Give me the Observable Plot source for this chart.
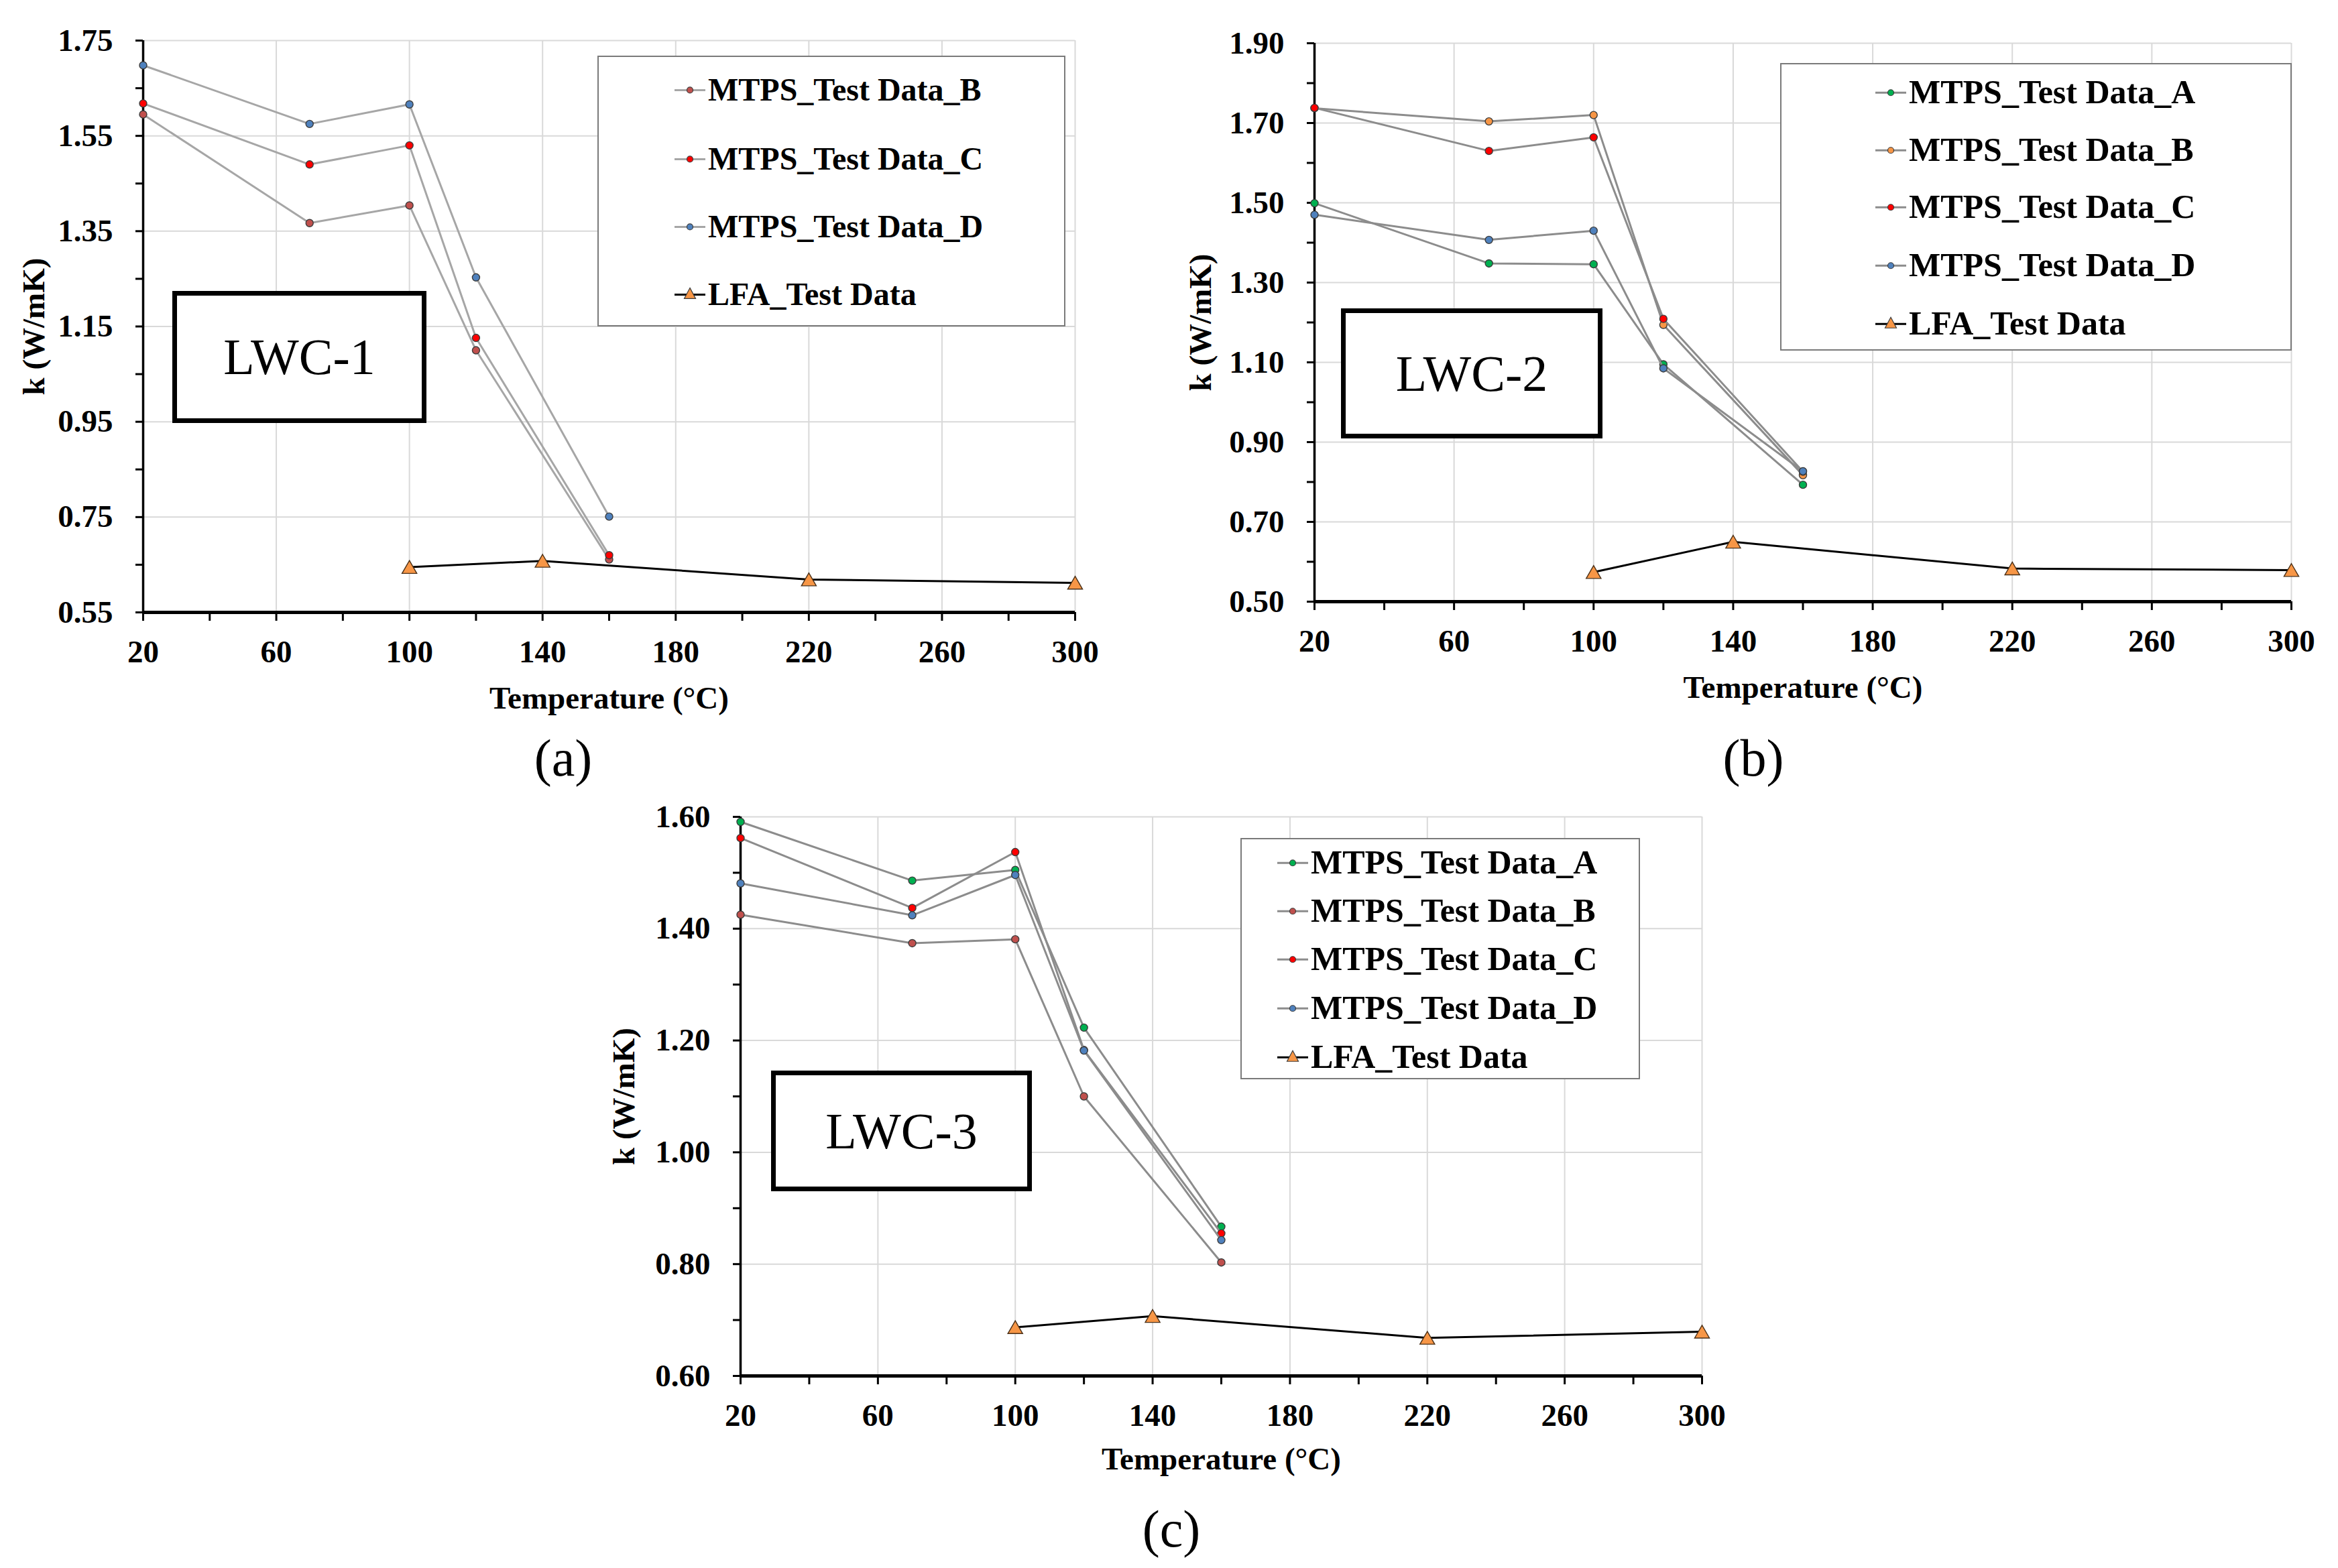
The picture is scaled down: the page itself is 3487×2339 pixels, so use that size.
<!DOCTYPE html>
<html><head><meta charset="utf-8">
<script src="https://cdn.jsdelivr.net/npm/d3@7"></script>
<script src="https://cdn.jsdelivr.net/npm/@observablehq/plot@0.6"></script>
<style>
html,body{margin:0;padding:0;background:#fff;}
#fig{position:relative;width:3487px;height:2339px;background:#fff;overflow:hidden;font-family:'Liberation Serif','Times New Roman',serif;}
#fig > svg{position:absolute;overflow:visible;}
.legend{position:absolute;border:2px solid #7a7a7a;background:#fff;box-sizing:border-box;}
.row{position:absolute;display:flex;align-items:center;transform:translateY(-50%);font-weight:bold;white-space:nowrap;color:#000;line-height:1.15;}
.row svg{position:absolute;top:50%;transform:translateY(-50%);}
.lwc{position:absolute;border:7px solid #000;box-sizing:border-box;display:flex;align-items:center;justify-content:center;font-weight:normal;background:#fff;color:#000;}
.cap{position:absolute;transform:translate(-50%,-50%);line-height:1;color:#000;white-space:nowrap;}
</style></head><body><div id="fig"></div><script>
// ---------- data ----------
const tempMTPS = [20, 70, 100, 120, 160];
const tempLFA = [100, 140, 220, 300];

const xMajorTicks = [20, 60, 100, 140, 180, 220, 260, 300];
const xMinorTicks = [40, 80, 120, 160, 200, 240, 280];

const yMajorA = [0.55, 0.75, 0.95, 1.15, 1.35, 1.55, 1.75];
const yMinorA = [0.65, 0.85, 1.05, 1.25, 1.45, 1.65];
const yMajorB = [0.50, 0.70, 0.90, 1.10, 1.30, 1.50, 1.70, 1.90];
const yMinorB = [0.60, 0.80, 1.00, 1.20, 1.40, 1.60, 1.80];
const yMajorC = [0.60, 0.80, 1.00, 1.20, 1.40, 1.60];
const yMinorC = [0.70, 0.90, 1.10, 1.30, 1.50];

// LWC-1
const lwc1_B = [1.595, 1.367, 1.404, 1.100, 0.661];
const lwc1_C = [1.618, 1.490, 1.530, 1.126, 0.670];
const lwc1_D = [1.698, 1.575, 1.616, 1.253, 0.751];
const lwc1_LFA = [0.645, 0.658, 0.619, 0.612];
// LWC-2
const lwc2_A = [1.499, 1.348, 1.346, 1.095, 0.793];
const lwc2_B = [1.737, 1.704, 1.720, 1.194, 0.817];
const lwc2_C = [1.738, 1.630, 1.664, 1.209, 0.826];
const lwc2_D = [1.470, 1.407, 1.430, 1.085, 0.827];
const lwc2_LFA = [0.574, 0.650, 0.583, 0.579];
// LWC-3
const lwc3_A = [1.591, 1.486, 1.505, 1.223, 0.867];
const lwc3_B = [1.425, 1.374, 1.381, 1.100, 0.803];
const lwc3_C = [1.562, 1.437, 1.537, 1.183, 0.855];
const lwc3_D = [1.481, 1.424, 1.496, 1.182, 0.843];
const lwc3_LFA = [0.687, 0.707, 0.668, 0.679];

const nameA = "MTPS_Test Data_A", nameB = "MTPS_Test Data_B", nameC = "MTPS_Test Data_C", nameD = "MTPS_Test Data_D", nameLFA = "LFA_Test Data";
const colGreen = "#00b050", colBrown = "#c0504d", colRed = "#ff0000", colBlue = "#4f81bd", colOrange = "#f79646";

const panelLabels = ["LWC-1", "LWC-2", "LWC-3"];
const captions = ["(a)", "(b)", "(c)"];
const xTitle = "Temperature (\u00B0C)";
const yTitle = "k (W/mK)";

// ---------- helpers ----------
const FONT = "'Liberation Serif','Times New Roman',serif";
const fig = document.getElementById("fig");
const rows = (xs, ys) => xs.map((t, i) => ({t, k: ys[i]}));

function makePanel(cfg) {
  const marks = [
    Plot.gridX(xMajorTicks, {stroke: "#d9d9d9", strokeOpacity: 1, strokeWidth: 2}),
    Plot.gridY(cfg.yMajor, {stroke: "#d9d9d9", strokeOpacity: 1, strokeWidth: 2}),
    Plot.axisX(xMinorTicks, {tickSize: 13, strokeWidth: 3, tickFormat: () => "", label: null}),
    Plot.axisX(xMajorTicks, {tickSize: 13, strokeWidth: 3, tickPadding: 28, fontSize: cfg.tickFs, fontWeight: "bold",
      label: xTitle, labelAnchor: "center", labelOffset: cfg.xLabelOffset, labelArrow: "none"}),
    Plot.axisY(cfg.yMinor, {tickSize: 11, strokeWidth: 3, tickFormat: () => "", label: null}),
    Plot.axisY(cfg.yMajor, {tickSize: 11, strokeWidth: 3, tickPadding: 34, fontSize: cfg.tickFs, fontWeight: "bold",
      tickFormat: d3.format(".2f"), label: yTitle, labelAnchor: "center", labelOffset: cfg.yLabelOffset, labelArrow: "none"}),
    Plot.ruleX([20], {strokeWidth: 3.5}),
    Plot.ruleY([cfg.yDomain[0]], {strokeWidth: 5})
  ];
  for (const s of cfg.series) {
    const d = rows(tempMTPS, s.values);
    marks.push(Plot.line(d, {x: "t", y: "k", stroke: cfg.lineGray, strokeWidth: 3}));
    marks.push(Plot.dot(d, {x: "t", y: "k", r: 5.5, fill: s.color, stroke: "#3c3c3c", strokeWidth: 1.4}));
  }
  const dl = rows(tempLFA, cfg.lfa);
  marks.push(Plot.line(dl, {x: "t", y: "k", stroke: "#000", strokeWidth: 3}));
  marks.push(Plot.dot(dl, {x: "t", y: "k", symbol: "triangle", r: 8.2, dy: 3, fill: colOrange, stroke: "#4a3018", strokeWidth: 1.4}));

  const f = cfg.frame;
  const svg = Plot.plot({
    width: cfg.w, height: cfg.h,
    marginLeft: f.x0 - cfg.left, marginRight: cfg.left + cfg.w - f.x1,
    marginTop: f.y0 - cfg.top, marginBottom: cfg.top + cfg.h - f.y1,
    x: {domain: [20, 300]},
    y: {domain: cfg.yDomain},
    style: {fontFamily: FONT, fontWeight: "bold", fontSize: cfg.tickFs + "px", background: "transparent", overflow: "visible", color: "#000"},
    marks
  });
  svg.style.position = "absolute";
  svg.style.left = cfg.left + "px";
  svg.style.top = cfg.top + "px";
  fig.appendChild(svg);

  // label box
  const b = document.createElement("div");
  b.className = "lwc";
  Object.assign(b.style, {left: cfg.box.x + "px", top: cfg.box.y + "px", width: cfg.box.w + "px", height: cfg.box.h + "px", fontSize: "76px"});
  b.textContent = cfg.boxText;
  fig.appendChild(b);

  // legend
  const L = cfg.legend;
  const lg = document.createElement("div");
  lg.className = "legend";
  Object.assign(lg.style, {left: L.x + "px", top: L.y + "px", width: L.w + "px", height: L.h + "px"});
  const entries = cfg.series.map(s => ({name: s.name, color: s.color, tri: false})).concat([{name: nameLFA, color: colOrange, tri: true}]);
  entries.forEach((e, i) => {
    const r = document.createElement("div");
    r.className = "row";
    Object.assign(r.style, {left: L.textLeft + "px", top: L.rows[i] + "px", fontSize: L.fs + "px"});
    const ns = "http://www.w3.org/2000/svg";
    const sw = document.createElementNS(ns, "svg");
    sw.setAttribute("width", 46); sw.setAttribute("height", 26);
    sw.style.left = (L.swatchLeft - L.textLeft) + "px";
    const ln = document.createElementNS(ns, "line");
    ln.setAttribute("x1", 0); ln.setAttribute("x2", 46); ln.setAttribute("y1", 13); ln.setAttribute("y2", 13);
    ln.setAttribute("stroke", e.tri ? "#000" : cfg.lineGray); ln.setAttribute("stroke-width", 3);
    sw.appendChild(ln);
    let m;
    if (e.tri) {
      m = document.createElementNS(ns, "path");
      m.setAttribute("d", "M23,3L31.5,19L14.5,19Z");
    } else {
      m = document.createElementNS(ns, "circle");
      m.setAttribute("cx", 23); m.setAttribute("cy", 13); m.setAttribute("r", 4.5);
    }
    m.setAttribute("fill", e.color); m.setAttribute("stroke", "#3c3c3c"); m.setAttribute("stroke-width", 1.2);
    sw.appendChild(m);
    r.appendChild(sw);
    const tx = document.createElement("span");
    tx.textContent = e.name;
    r.appendChild(tx);
    lg.appendChild(r);
  });
  fig.appendChild(lg);

  const c = document.createElement("div");
  c.className = "cap";
  Object.assign(c.style, {left: cfg.cap.x + "px", top: cfg.cap.y + "px", fontSize: "78px"});
  c.textContent = cfg.capText;
  fig.appendChild(c);
}

makePanel({
  left: 0, top: 0, w: 1700, h: 1100,
  frame: {x0: 213, x1: 1603, y0: 60, y1: 913},
  yDomain: [0.55, 1.75], yMajor: yMajorA, yMinor: yMinorA,
  tickFs: 47, xLabelOffset: 143, yLabelOffset: 181,
  lineGray: "#a6a6a6",
  series: [
    {name: nameB, color: colBrown, values: lwc1_B},
    {name: nameC, color: colRed, values: lwc1_C},
    {name: nameD, color: colBlue, values: lwc1_D}
  ],
  lfa: lwc1_LFA,
  box: {x: 257, y: 434, w: 379, h: 197}, boxText: panelLabels[0],
  legend: {x: 891, y: 83, w: 698, h: 404, rows: [49, 152, 253, 354], swatchLeft: 113, textLeft: 163, fs: 48},
  cap: {x: 840, y: 1131}, capText: captions[0]
});

makePanel({
  left: 1740, top: 0, w: 1747, h: 1100,
  frame: {x0: 1960, x1: 3417, y0: 64, y1: 897},
  yDomain: [0.50, 1.90], yMajor: yMajorB, yMinor: yMinorB,
  tickFs: 47, xLabelOffset: 143, yLabelOffset: 188,
  lineGray: "#8c8c8c",
  series: [
    {name: nameA, color: colGreen, values: lwc2_A},
    {name: nameB, color: colOrange, values: lwc2_B},
    {name: nameC, color: colRed, values: lwc2_C},
    {name: nameD, color: colBlue, values: lwc2_D}
  ],
  lfa: lwc2_LFA,
  box: {x: 2000, y: 460, w: 390, h: 194}, boxText: panelLabels[1],
  legend: {x: 2655, y: 94, w: 763, h: 429, rows: [42, 128, 213, 300, 387], swatchLeft: 140, textLeft: 190, fs: 50},
  cap: {x: 2615, y: 1131}, capText: captions[1]
});

makePanel({
  left: 860, top: 1150, w: 1740, h: 1100,
  frame: {x0: 1104, x1: 2538, y0: 1218, y1: 2052},
  yDomain: [0.60, 1.60], yMajor: yMajorC, yMinor: yMinorC,
  tickFs: 47, xLabelOffset: 139, yLabelOffset: 192,
  lineGray: "#8c8c8c",
  series: [
    {name: nameA, color: colGreen, values: lwc3_A},
    {name: nameB, color: colBrown, values: lwc3_B},
    {name: nameC, color: colRed, values: lwc3_C},
    {name: nameD, color: colBlue, values: lwc3_D}
  ],
  lfa: lwc3_LFA,
  box: {x: 1150, y: 1597, w: 389, h: 180}, boxText: panelLabels[2],
  legend: {x: 1850, y: 1250, w: 596, h: 360, rows: [35, 107, 179, 252, 325], swatchLeft: 53, textLeft: 103, fs: 50},
  cap: {x: 1747, y: 2281}, capText: captions[2]
});
</script></body></html>
